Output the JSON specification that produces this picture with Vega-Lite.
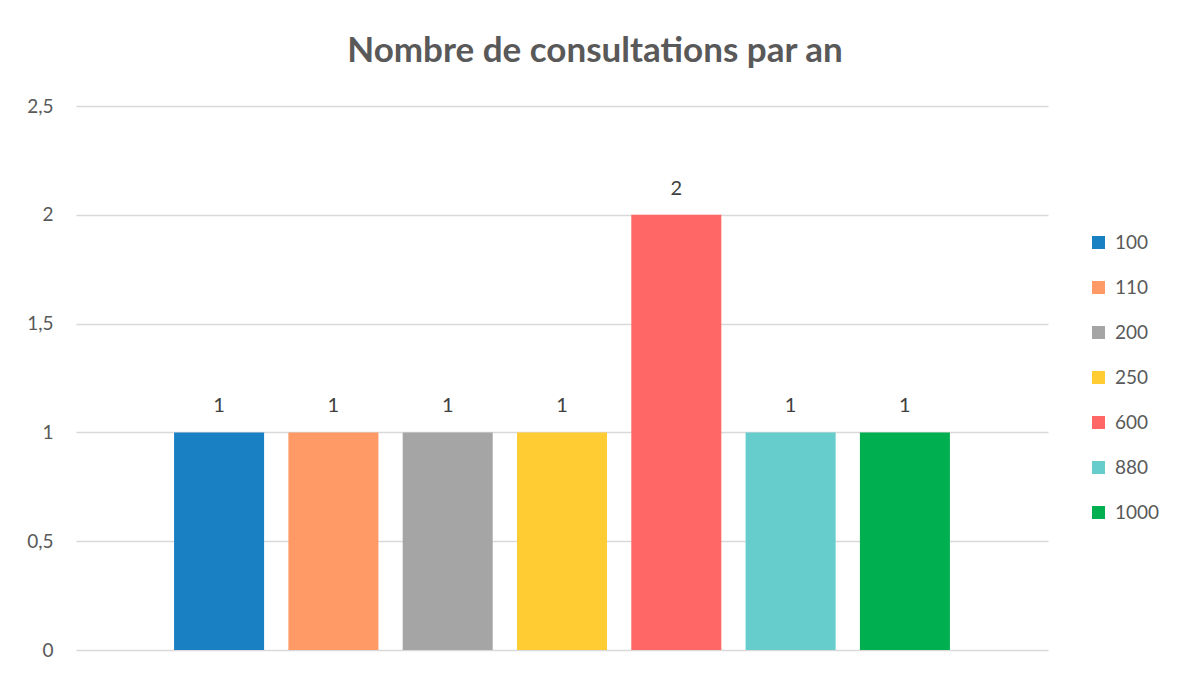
{
  "$schema": "https://vega.github.io/schema/vega-lite/v6.json",
  "width": 972,
  "height": 544,
  "autosize": {"type": "none"},
  "padding": {"left": 76, "top": 106, "right": 134, "bottom": 25},
  "background": "white",
  "title": {
    "text": "Nombre de consultations par an",
    "font": "Lato",
    "fontSize": 35,
    "fontWeight": "bold",
    "color": "#595959",
    "anchor": "middle",
    "baseline": "alphabetic",
    "offset": 0,
    "dx": 33
  },
  "data": {
    "values": [
      {"montant": "100", "consultations": 1},
      {"montant": "110", "consultations": 1},
      {"montant": "200", "consultations": 1},
      {"montant": "250", "consultations": 1},
      {"montant": "600", "consultations": 2},
      {"montant": "880", "consultations": 1},
      {"montant": "1000", "consultations": 1}
    ]
  },
  "encoding": {
    "x": {
      "field": "montant",
      "type": "nominal",
      "sort": null,
      "scale": {"paddingInner": 0.2125, "paddingOuter": 0.858},
      "axis": null
    },
    "y": {
      "field": "consultations",
      "type": "quantitative",
      "scale": {"domain": [0, 2.5]},
      "axis": {
        "title": null,
        "values": [0, 0.5, 1, 1.5, 2, 2.5],
        "labelExpr": "replace(format(datum.value, '~g'), '.', ',')",
        "domain": false,
        "ticks": false,
        "labelPadding": 23,
        "labelFont": "Lato",
        "labelFontSize": 19,
        "labelColor": "#595959",
        "gridColor": "#d9d9d9",
        "gridWidth": 1.5
      }
    }
  },
  "layer": [
    {
      "mark": {"type": "bar"},
      "encoding": {
        "color": {
          "field": "montant",
          "type": "nominal",
          "scale": {
            "domain": ["100", "110", "200", "250", "600", "880", "1000"],
            "range": ["#1a80c4", "#ff9966", "#a5a5a5", "#ffcc33", "#ff6666", "#66cccc", "#00b050"]
          },
          "legend": {
            "title": null,
            "orient": "none",
            "legendX": 1013,
            "legendY": 127,
            "symbolType": "square",
            "symbolSize": 169,
            "symbolStrokeWidth": 0,
            "labelFont": "Lato",
            "labelFontSize": 19,
            "labelColor": "#595959",
            "labelOffset": 7,
            "rowPadding": 25
          }
        }
      }
    },
    {
      "mark": {"type": "text", "dy": -26, "baseline": "middle", "font": "Lato", "fontSize": 20, "color": "#404040"},
      "encoding": {
        "text": {"field": "consultations", "type": "quantitative"}
      }
    }
  ],
  "config": {"view": {"stroke": null}}
}
